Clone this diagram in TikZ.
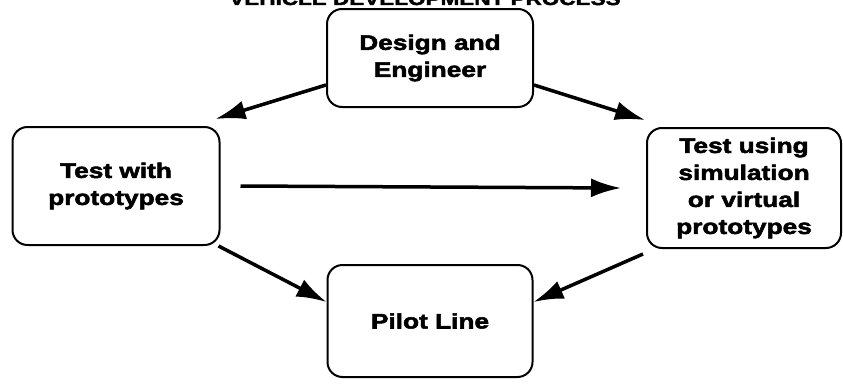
\documentclass[tikz,border=0pt]{standalone}
\usepackage{fontspec}
\setmainfont{Liberation Sans}[FakeStretch=1.25, BoldFeatures={FakeBold=2.5}]
\usetikzlibrary{arrows.meta}
\begin{document}
\begin{tikzpicture}[x=1pt,y=-1pt]
\tikzstyle{box} 	= [draw, rectangle, rounded corners = 15pt, line width = 2pt, align = center, font = \fontsize{21}{27}\selectfont\bfseries] % define process box
\tikzstyle{arrow} 	= [line width = 3.5pt, color = black, -{Latex[length=30pt, width=19pt]}] % define standard arrow

\useasboundingbox (0,0) rectangle (843,388);

% title, cut off at the top
\node(TT)[anchor=base, font=\fontsize{18}{22}\selectfont\bfseries] at (425,5){VEHICLE DEVELOPMENT PROCESS};

% the four boxes
\node(DE)[box, minimum width=206pt, minimum height=98pt] at (430,58){Design and\\Engineer};
\node(TP)[box, minimum width=207pt, minimum height=118pt] at (116,186){Test with\\prototypes};
\node(TS)[box, minimum width=194pt, minimum height=120pt] at (744,188){Test using\\simulation\\or virtual\\prototypes};
\node(PL)[box, minimum width=205pt, minimum height=112pt] at (430,321){Pilot Line};

% arrows
\draw[arrow]([yshift=-27pt]DE.west)--([xshift=-5pt,yshift=7pt]TP.north east);
\draw[arrow]([yshift=-27pt]DE.east)--([xshift=-1pt,yshift=7pt]TS.north west);
\draw[arrow]([xshift=20pt]TP.east)--([xshift=-25pt]TS.west);
\draw[arrow]([xshift=-2pt]TP.south east)--([yshift=19pt]PL.west);
\draw[arrow]([xshift=-3pt,yshift=-5pt]TS.south west)--([yshift=19pt]PL.east);
\end{tikzpicture}
\end{document}
